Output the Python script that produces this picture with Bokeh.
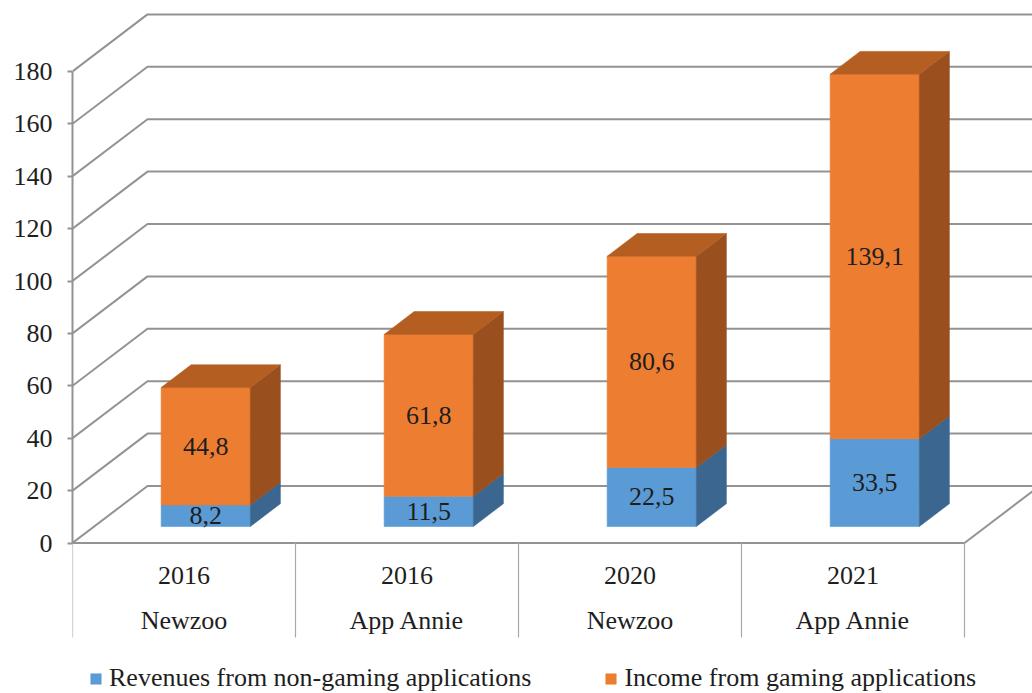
from bokeh.plotting import figure
from bokeh.models import (Range1d, LinearAxis, FixedTicker, ColumnDataSource,
                          Legend, LegendItem)
from bokeh.embed import file_html
from bokeh.resources import INLINE

# ---------------- data ----------------
years = ["2016", "2016", "2020", "2021"]
sources = ["Newzoo", "App Annie", "Newzoo", "App Annie"]
non_gaming = [8.2, 11.5, 22.5, 33.5]
gaming = [44.8, 61.8, 80.6, 139.1]
y_ticks = [0, 20, 40, 60, 80, 100, 120, 140, 160, 180]
series_names = ["Revenues from non-gaming applications",
                "Income from gaming applications"]

# ---------------- layout (reference pixels) ----------------
W, H = 1032, 693          # canvas size
X0_REF = 72               # front-left corner of the floor
CAT_PX = 223              # width of one category on the front plane
ZERO_REF = 542.5          # reference y of value 0
PX_PER_UNIT = 2.62        # pixels per value unit
DEPTH_PX = (75, 57)       # oblique depth vector (right, up)
BAR_W = 0.4               # bar width (fraction of category)
BAR_D = 0.4               # bar depth (fraction of full depth)
BAR_F0 = 0.29             # depth position of bar front
SEP_BOTTOM_REF = 637
YEAR_MID_REF = 574.5
SRC_MID_REF = 619.5
FONT = "'Liberation Serif', 'Times New Roman', serif"
TXT = "#1e1e1e"
GRID = "#939393"

def dx(px):
    return px / CAT_PX

def dy(px):
    return px / PX_PER_UNIT

def v_of(ref_y):
    return (ZERO_REF - ref_y) / PX_PER_UNIT

x_range = Range1d(0, (W - X0_REF) / CAT_PX)
y_range = Range1d(v_of(H), v_of(0))

p = figure(width=W, height=H, x_range=x_range, y_range=y_range,
           output_backend="svg", toolbar_location=None,
           x_axis_location=None, y_axis_location=None,
           min_border_left=X0_REF, min_border_right=0,
           min_border_top=0, min_border_bottom=0,
           outline_line_color=None, background_fill_color="white")
p.grid.visible = False

DX, DY = dx(DEPTH_PX[0]), dy(DEPTH_PX[1])
n = len(years)
XR = x_range.end + 1

# walls: left-wall diagonals + back-wall horizontals
gx, gy = [], []
for t in y_ticks:
    gx.append([0, DX, XR])
    gy.append([t, t + DY, t + DY])
p.multi_line(gx, gy, line_color=GRID, line_width=2)

# floor front edge and right edge
p.multi_line([[0, n], [n, n + DX]], [[0, 0], [0, DY]],
             line_color=GRID, line_width=2)

# category separators
sep_bottom = v_of(SEP_BOTTOM_REF)
p.multi_line([[i, i] for i in range(n + 1)],
             [[0, sep_bottom] for _ in range(n + 1)],
             line_color="#a9a9a9", line_width=1.2)

# y axis
yaxis = LinearAxis(bounds=(0, 180), ticker=FixedTicker(ticks=y_ticks),
                   axis_line_color=GRID, axis_line_width=2,
                   major_tick_line_color=GRID, major_tick_line_width=2,
                   major_tick_out=5, major_tick_in=0,
                   minor_tick_line_color=None,
                   major_label_text_font=FONT,
                   major_label_text_font_size="26px",
                   major_label_text_color=TXT,
                   major_label_standoff=15)
p.add_layout(yaxis, "left")

# bars
colors = {
    "blue": ("#5B9BD5", "#3B6690", "#4A7FB3"),
    "orange": ("#ED7D31", "#9A4F1E", "#B55E22"),
}
fx, fy, fc = [], [], []
lx, ly, lt = [], [], []
bdx, bdy = BAR_D * DX, BAR_D * DY
blue_idx = orange_idx = None
for i in range(n):
    xl = i + (1 - BAR_W) / 2 + BAR_F0 * DX
    xr = xl + BAR_W
    yb = BAR_F0 * DY
    segs = [(0, non_gaming[i], "blue"),
            (non_gaming[i], non_gaming[i] + gaming[i], "orange")]
    for lo, hi, c in segs:
        front, side, top = colors[c]
        if c == "blue" and blue_idx is None:
            blue_idx = len(fx)
        if c == "orange" and orange_idx is None:
            orange_idx = len(fx)
        fx.append([xl, xr, xr, xl])
        fy.append([yb + lo, yb + lo, yb + hi, yb + hi])
        fc.append(front)
        fx.append([xr, xr + bdx, xr + bdx, xr])
        fy.append([yb + lo, yb + lo + bdy, yb + hi + bdy, yb + hi])
        fc.append(side)
        val = hi - lo
        lx.append((xl + xr) / 2)
        ly.append(yb + (lo + hi) / 2)
        lt.append(f"{val:.1f}".replace(".", ","))
    topv = yb + non_gaming[i] + gaming[i]
    fx.append([xl, xr, xr + bdx, xl + bdx])
    fy.append([topv, topv, topv + bdy, topv + bdy])
    fc.append(colors["orange"][2])

bars = p.patches("xs", "ys", fill_color="color", line_color="color",
                 line_width=0.6,
                 source=ColumnDataSource(dict(xs=fx, ys=fy, color=fc)))

p.text(lx, ly, text=lt, text_align="center", text_baseline="middle",
       text_font={"value": FONT}, text_font_size="26px", text_color=TXT)

# category labels
cx = [i + 0.5 for i in range(n)]
p.text(cx, [v_of(YEAR_MID_REF)] * n, text=years, text_align="center",
       text_baseline="middle", text_font={"value": FONT},
       text_font_size="26px", text_color=TXT)
p.text(cx, [v_of(SRC_MID_REF)] * n, text=sources, text_align="center",
       text_baseline="middle", text_font={"value": FONT},
       text_font_size="26px", text_color=TXT)

# legend
legend = Legend(items=[LegendItem(label=series_names[0], renderers=[bars], index=blue_idx),
                       LegendItem(label=series_names[1], renderers=[bars], index=orange_idx)],
                orientation="horizontal", location=(17, 0),
                padding=0, margin=0, spacing=73,
                glyph_width=13, glyph_height=13, label_standoff=7,
                label_height=13,
                label_text_font=FONT, label_text_font_size="26px",
                label_text_color=TXT,
                border_line_color=None, background_fill_alpha=0)
p.add_layout(legend, "center")

open("out.html", "w").write(file_html(p, INLINE))
